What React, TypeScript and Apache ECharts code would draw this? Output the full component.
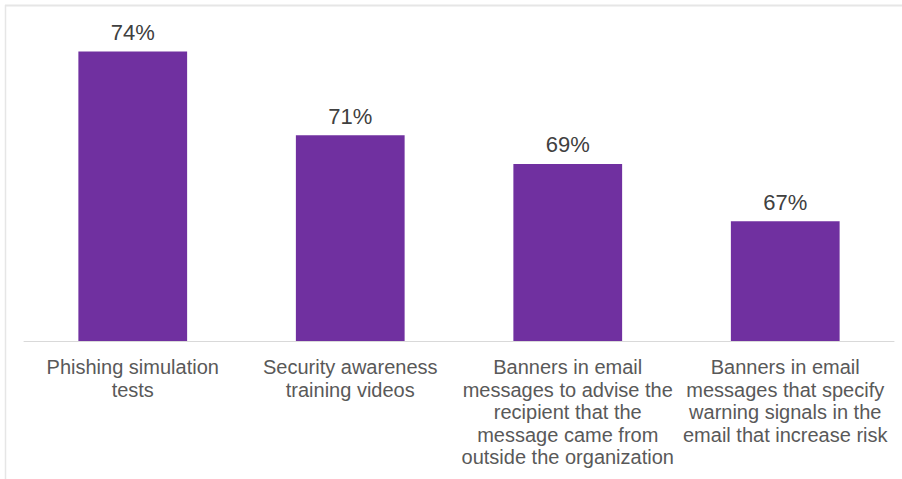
import React, { useEffect, useRef } from "react";
import * as echarts from "echarts";

const categories: string[] = [
  "Phishing simulation\ntests",
  "Security awareness\ntraining videos",
  "Banners in email\nmessages to advise the\nrecipient that the\nmessage came from\noutside the organization",
  "Banners in email\nmessages that specify\nwarning signals in the\nemail that increase risk",
];
const values: number[] = [74.1, 70.6, 69.4, 67.0];
const axisMin = 62;
const axisMax = 76;

export default function App() {
  const ref = useRef<HTMLDivElement>(null);
  useEffect(() => {
    if (!ref.current) return;
    const chart = echarts.init(ref.current, undefined, { renderer: "svg" });
    chart.setOption({
      animation: false,
      backgroundColor: "#ffffff",
      textStyle: { fontFamily: "Liberation Sans, Arial, sans-serif" },
      grid: { left: 24, right: 8, top: 6, bottom: 138, containLabel: false },
      xAxis: {
        type: "category",
        data: categories,
        axisLine: { show: true, lineStyle: { color: "#d9d9d9", width: 1 } },
        axisTick: { show: false },
        axisLabel: {
          interval: 0,
          margin: 15,
          fontSize: 20,
          lineHeight: 22.5,
          color: "#595959",
          align: "center",
          fontFamily: "Liberation Sans, Arial, sans-serif",
        },
      },
      yAxis: {
        type: "value",
        min: axisMin,
        max: axisMax,
        show: false,
        splitLine: { show: false },
      },
      series: [
        {
          type: "bar",
          data: values,
          barWidth: "50%",
          itemStyle: { color: "#7030A0" },
          label: {
            show: true,
            position: "top",
            distance: 8,
            fontSize: 22,
            color: "#404040",
            fontFamily: "Liberation Sans, Arial, sans-serif",
            formatter: (p: any) => Math.round(p.value) + "%",
          },
        },
      ],
      graphic: [
        {
          type: "line",
          shape: { x1: 5, y1: 5.5, x2: 902, y2: 5.5 },
          style: { stroke: "#e6e6e6", lineWidth: 2 },
          silent: true,
        },
        {
          type: "line",
          shape: { x1: 5.5, y1: 5, x2: 5.5, y2: 479 },
          style: { stroke: "#e6e6e6", lineWidth: 1.5 },
          silent: true,
        },
      ],
    });
    return () => chart.dispose();
  }, []);
  return (
    <div
      ref={ref}
      style={{ position: "fixed", left: 0, top: 0, width: 902, height: 479 }}
    />
  );
}
